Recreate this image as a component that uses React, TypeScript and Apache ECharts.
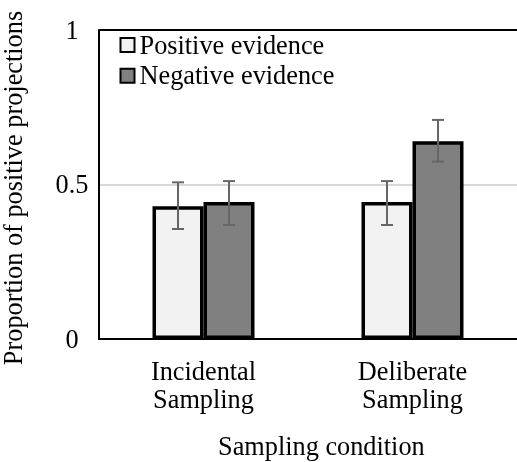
import React, { useEffect, useRef } from "react";
import * as echarts from "echarts";

const categories = ["Incidental\nSampling", "Deliberate\nSampling"];
const seriesNames = ["Positive evidence", "Negative evidence"];
const positiveValues = [0.43, 0.443];
const negativeValues = [0.443, 0.64];
const positiveLow = [0.356, 0.369];
const positiveHigh = [0.507, 0.511];
const negativeLow = [0.369, 0.574];
const negativeHigh = [0.511, 0.709];
const yTicks = [0, 0.5, 1];
const xTitle = "Sampling condition";
const yTitle = "Proportion of positive projections";

const FONT = "'Liberation Serif', 'Times New Roman', Times, serif";
const FS = 26.3;
const BAR_W = 51;

export default function App() {
  const ref = useRef<HTMLDivElement>(null);
  useEffect(() => {
    if (!ref.current) return;
    const chart = echarts.init(ref.current, undefined, { renderer: "svg" });
    const errSeries = (low: number[], high: number[], offset: number) => ({
      type: "custom",
      z: 10,
      data: low.map((l, i) => [i, l, high[i]]),
      encode: { x: 0, y: [1, 2] },
      renderItem: (params: any, api: any) => {
        const lo = api.coord([api.value(0), api.value(1)]);
        const hi = api.coord([api.value(0), api.value(2)]);
        const x = lo[0] + offset;
        const style = { stroke: "#666666", lineWidth: 2 };
        return {
          type: "group",
          children: [
            { type: "line", shape: { x1: x, y1: lo[1], x2: x, y2: hi[1] }, style },
            { type: "line", shape: { x1: x - 6, y1: lo[1], x2: x + 6, y2: lo[1] }, style },
            { type: "line", shape: { x1: x - 6, y1: hi[1], x2: x + 6, y2: hi[1] }, style },
          ],
        };
      },
    });
    chart.setOption({
      animation: false,
      textStyle: { fontFamily: FONT, color: "#000" },
      grid: {
        left: 99,
        right: 0,
        top: 30,
        bottom: 123,
        containLabel: false,
        outerBoundsMode: "none",
      },
      legend: {
        orient: "vertical",
        left: 119.5,
        top: 32,
        padding: 0,
        itemWidth: 14,
        itemHeight: 14,
        itemGap: 4.7,
        icon: "rect",
        textStyle: { fontFamily: FONT, fontSize: FS, color: "#000" },
        data: seriesNames,
      },
      xAxis: {
        type: "category",
        data: categories,
        axisLine: { show: true, lineStyle: { color: "#000", width: 2 } },
        axisTick: { show: false },
        axisLabel: {
          fontFamily: FONT,
          fontSize: FS,
          lineHeight: 28,
          color: "#000",
          margin: 18,
        },
      },
      yAxis: {
        type: "value",
        min: 0,
        max: 1,
        interval: 0.5,
        axisLine: { show: true, lineStyle: { color: "#000", width: 2 } },
        axisTick: { show: false },
        axisLabel: {
          fontFamily: FONT,
          fontSize: FS,
          color: "#000",
          align: "center",
          margin: 27,
          formatter: (v: number) => (yTicks.includes(v) ? String(v) : ""),
        },
        splitLine: {
          show: true,
          lineStyle: { color: ["#000", "#d9d9d9", "#000"], width: 2 },
        },
      },
      graphic: [
        {
          type: "text",
          left: 218,
          top: 433,
          style: {
            text: xTitle,
            fontFamily: FONT,
            fontSize: FS,
            fill: "#000",
          },
        },
        {
          type: "text",
          x: 13,
          y: 188,
          rotation: Math.PI / 2,
          style: {
            text: yTitle,
            fontFamily: FONT,
            fontSize: FS,
            fill: "#000",
            align: "center",
            verticalAlign: "middle",
          },
        },
      ],
      series: [
        {
          name: seriesNames[0],
          type: "bar",
          data: positiveValues,
          barWidth: BAR_W,
          barGap: "0%",
          itemStyle: { color: "#f2f2f2", borderColor: "#000", borderWidth: 3.5 },
        },
        {
          name: seriesNames[1],
          type: "bar",
          data: negativeValues,
          barWidth: BAR_W,
          barGap: "0%",
          itemStyle: { color: "#808080", borderColor: "#000", borderWidth: 3.5 },
        },
        errSeries(positiveLow, positiveHigh, -BAR_W / 2),
        errSeries(negativeLow, negativeHigh, BAR_W / 2),
      ],
    });
    return () => chart.dispose();
  }, []);
  return (
    <div
      ref={ref}
      style={{ position: "fixed", left: 0, top: 0, width: 517, height: 462 }}
    />
  );
}
